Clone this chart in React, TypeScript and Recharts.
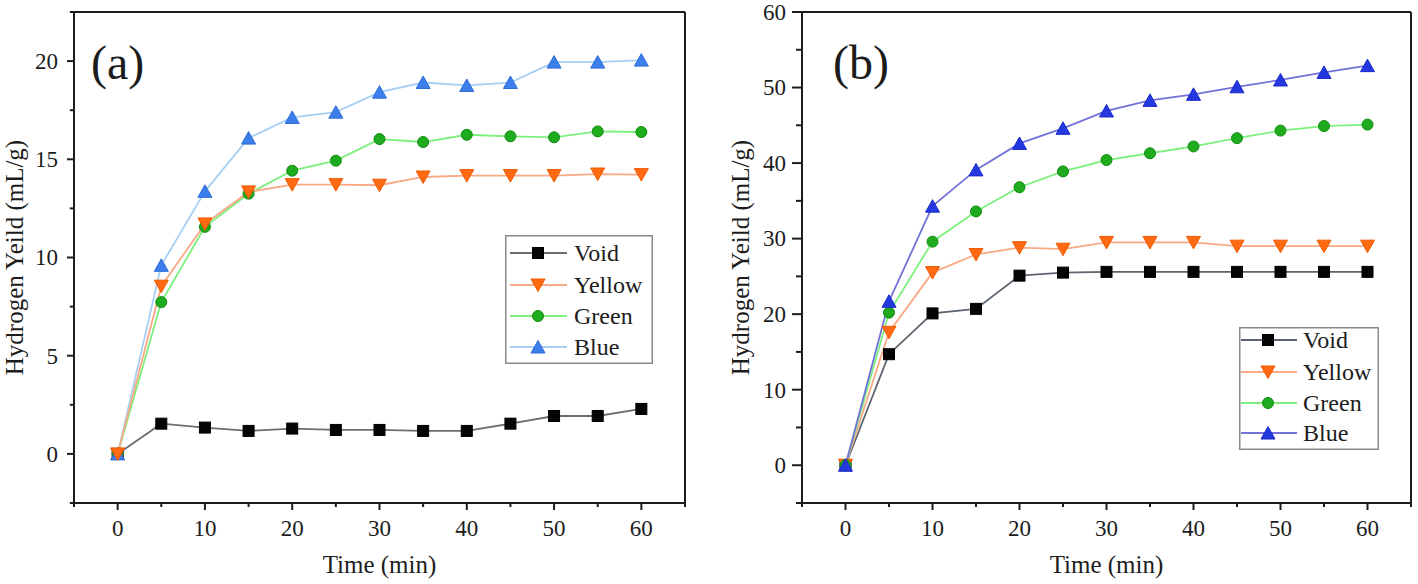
import { LineChart, Line, XAxis, YAxis, Legend } from 'recharts'

const times = [0, 5, 10, 15, 20, 25, 30, 35, 40, 45, 50, 55, 60]

// panel (a)
const voidA = [0, 1.54, 1.34, 1.17, 1.29, 1.22, 1.22, 1.17, 1.17, 1.54, 1.93, 1.93, 2.29]
const yellowA = [0, 8.54, 11.71, 13.34, 13.71, 13.71, 13.68, 14.1, 14.17, 14.17, 14.17, 14.25, 14.22]
const greenA = [0, 7.73, 11.56, 13.25, 14.42, 14.93, 16.03, 15.88, 16.25, 16.17, 16.12, 16.42, 16.39]
const blueA = [0, 9.6, 13.37, 16.08, 17.13, 17.4, 18.42, 18.91, 18.76, 18.91, 19.95, 19.95, 20.05]

// panel (b)
const voidB = [0, 14.7, 20.1, 20.7, 25.1, 25.5, 25.6, 25.6, 25.6, 25.6, 25.6, 25.6, 25.6]
const yellowB = [0, 17.6, 25.5, 27.9, 28.8, 28.6, 29.5, 29.5, 29.5, 29.0, 29.0, 29.0, 29.0]
const greenB = [0, 20.2, 29.6, 33.6, 36.8, 38.9, 40.4, 41.3, 42.2, 43.3, 44.3, 44.9, 45.1]
const blueB = [0, 21.7, 34.3, 39.1, 42.6, 44.6, 46.9, 48.3, 49.1, 50.1, 51.0, 52.0, 52.9]

const xTicks = [-5, 0, 5, 10, 15, 20, 25, 30, 35, 40, 45, 50, 55, 60, 65]
const yTicksA = [-2.5, 0, 2.5, 5, 7.5, 10, 12.5, 15, 17.5, 20, 22.5]
const yTicksB = [-5, 0, 5, 10, 15, 20, 25, 30, 35, 40, 45, 50, 55, 60]

const FONT = "'Liberation Serif', 'Times New Roman', serif"
const INK = '#1c1c1c'

type Marker = 'square' | 'down' | 'circle' | 'up'
interface SeriesStyle {
  name: string
  line: string
  fill: string
  edge: string
  marker: Marker
}

const stylesA: SeriesStyle[] = [
  { name: 'Void', line: '#6e6e6e', fill: '#050505', edge: '#000', marker: 'square' },
  { name: 'Yellow', line: '#f9a985', fill: '#ff6a12', edge: '#f05a00', marker: 'down' },
  { name: 'Green', line: '#7cf07c', fill: '#1eac1e', edge: '#108c10', marker: 'circle' },
  { name: 'Blue', line: '#a6cff3', fill: '#3d7fea', edge: '#2c6cd8', marker: 'up' },
]
const stylesB: SeriesStyle[] = [
  { name: 'Void', line: '#5c6470', fill: '#050505', edge: '#000', marker: 'square' },
  { name: 'Yellow', line: '#f9a985', fill: '#ff6a12', edge: '#f05a00', marker: 'down' },
  { name: 'Green', line: '#7cf07c', fill: '#1eac1e', edge: '#108c10', marker: 'circle' },
  { name: 'Blue', line: '#7272d8', fill: '#2438e0', edge: '#1a2ac8', marker: 'up' },
]

const makeRows = (v: number[], y: number[], g: number[], b: number[]) =>
  times.map((t, i) => ({ t, Void: v[i], Yellow: y[i], Green: g[i], Blue: b[i] }))

const rowsA = makeRows(voidA, yellowA, greenA, blueA)
const rowsB = makeRows(voidB, yellowB, greenB, blueB)

function marker(s: SeriesStyle, cx: number, cy: number, key?: string) {
  if (s.marker === 'square')
    return <rect key={key} x={cx - 5.5} y={cy - 5.5} width={11} height={11} fill={s.fill} stroke={s.edge} strokeWidth={1} />
  if (s.marker === 'circle')
    return <circle key={key} cx={cx} cy={cy} r={5.5} fill={s.fill} stroke={s.edge} strokeWidth={1} />
  if (s.marker === 'down')
    return (
      <polygon key={key} points={`${cx - 7},${cy - 6} ${cx + 7},${cy - 6} ${cx},${cy + 6.5}`} fill={s.fill} stroke={s.edge} strokeWidth={1} />
    )
  return <polygon key={key} points={`${cx - 7},${cy + 6} ${cx + 7},${cy + 6} ${cx},${cy - 6.5}`} fill={s.fill} stroke={s.edge} strokeWidth={1} />
}

const makeXTick = (props: any) => {
  const { x, y, payload } = props
  const v = payload.value
  const major = v % 10 === 0 && v >= 0 && v <= 60
  return (
    <g>
      <line x1={x} y1={y} x2={x} y2={y + (major ? 7 : 4)} stroke={INK} strokeWidth={2} />
      {major && (
        <text x={x} y={y + 33} textAnchor="middle" fontSize={23} fontFamily={FONT} fill={INK}>
          {v}
        </text>
      )}
    </g>
  )
}

const makeYTick = (step: number, len: number) => (props: any) => {
  const { x, y, payload } = props
  const v = payload.value
  const major = v % step === 0 && v >= 0
  return (
    <g>
      <line x1={x} y1={y} x2={x - (major ? len : len * 0.6)} y2={y} stroke={INK} strokeWidth={2} />
      {major && (
        <text x={x - 16} y={y} dy="0.34em" textAnchor="end" fontSize={23} fontFamily={FONT} fill={INK}>
          {v}
        </text>
      )}
    </g>
  )
}

interface LegendBox {
  x: number
  y: number
  w: number
  h: number
  rows: number[]
  lineX0: number
  lineX1: number
  markX: number
  textX: number
}

const legendContent = (styles: SeriesStyle[], box: LegendBox) => () => (
  <svg width={box.w} height={box.h} style={{ display: 'block' }}>
    <rect x={0.75} y={0.75} width={box.w - 1.5} height={box.h - 1.5} fill="#fff" stroke="#8a8a8a" strokeWidth={1.5} />
    {styles.map((s, i) => (
      <g key={s.name}>
        <line x1={box.lineX0} x2={box.lineX1} y1={box.rows[i]} y2={box.rows[i]} stroke={s.line} strokeWidth={1.8} />
        {marker(s, box.markX, box.rows[i])}
        <text x={box.textX} y={box.rows[i]} dy="0.34em" fontSize={24} fontFamily={FONT} fill={INK}>
          {s.name}
        </text>
      </g>
    ))}
  </svg>
)

interface PanelProps {
  left: number
  width: number
  plotLeft: number
  rightPad: number
  rows: any[]
  styles: SeriesStyle[]
  order: string[]
  yDomain: [number, number]
  yTicks: number[]
  yStep: number
  yTickLen: number
  yLabelOffset: number
  legend: LegendBox
  tag: string
  tagX: number
}

function Panel(p: PanelProps) {
  const byName = (n: string) => p.styles.find((s) => s.name === n) as SeriesStyle
  return (
    <div style={{ position: 'absolute', left: p.left, top: 0, width: p.width, height: 584 }}>
      <LineChart width={p.width} height={584} data={p.rows} margin={{ top: 0, right: 0, bottom: 0, left: 0 }}>
        <XAxis
          xAxisId="bottom"
          dataKey="t"
          type="number"
          domain={[-5, 65]}
          allowDataOverflow
          ticks={xTicks}
          interval={0}
          height={81}
          tickSize={0}
          tickMargin={0}
          tickLine={false}
          tick={makeXTick}
          axisLine={{ stroke: INK, strokeWidth: 2 }}
          label={{
            value: 'Time (min)',
            position: 'insideBottom',
            offset: 11,
            style: { fontSize: 25, fontFamily: FONT, fill: INK },
          }}
        />
        <XAxis
          xAxisId="top"
          orientation="top"
          dataKey="t"
          type="number"
          domain={[-5, 65]}
          allowDataOverflow
          height={12}
          tick={false}
          tickLine={false}
          axisLine={{ stroke: INK, strokeWidth: 2 }}
        />
        <YAxis
          yAxisId="left"
          type="number"
          domain={p.yDomain}
          allowDataOverflow
          ticks={p.yTicks}
          interval={0}
          width={p.plotLeft}
          tickSize={0}
          tickMargin={0}
          tickLine={false}
          tick={makeYTick(p.yStep, p.yTickLen)}
          axisLine={{ stroke: INK, strokeWidth: 2 }}
          label={{
            value: 'Hydrogen Yeild (mL/g)',
            angle: -90,
            position: 'insideLeft',
            offset: p.yLabelOffset,
            style: { textAnchor: 'middle', fontSize: 25, fontFamily: FONT, fill: INK },
          }}
        />
        <YAxis
          yAxisId="right"
          orientation="right"
          type="number"
          domain={p.yDomain}
          allowDataOverflow
          width={p.rightPad}
          tick={false}
          tickLine={false}
          axisLine={{ stroke: INK, strokeWidth: 2 }}
        />
        <Legend
          layout="vertical"
          align="center"
          verticalAlign="middle"
          content={legendContent(p.styles, p.legend)}
          wrapperStyle={{ left: p.legend.x, top: p.legend.y, width: p.legend.w, height: p.legend.h }}
        />
        {p.order.map((n) => {
          const s = byName(n)
          return (
            <Line
              key={n}
              xAxisId="bottom"
              yAxisId="left"
              dataKey={n}
              stroke={s.line}
              strokeWidth={1.8}
              isAnimationActive={false}
              activeDot={false}
              dot={(d: any) => marker(s, d.cx, d.cy, `${n}-${d.index}`)}
            />
          )
        })}
      </LineChart>
      <svg width={p.width} height={120} style={{ position: 'absolute', left: 0, top: 0, pointerEvents: 'none' }}>
        <text x={p.tagX} y={79} fontSize={48} fontFamily={FONT} fill={INK}>
          {p.tag}
        </text>
      </svg>
    </div>
  )
}

export default function App() {
  return (
    <div style={{ position: 'absolute', left: 0, top: 0, width: 1418, height: 584, background: '#fff', overflow: 'hidden' }}>
      <Panel
        left={0}
        width={700}
        plotLeft={74}
        rightPad={15}
        rows={rowsA}
        styles={stylesA}
        order={['Void', 'Green', 'Blue', 'Yellow']}
        yDomain={[-2.5, 22.5]}
        yTicks={yTicksA}
        yStep={5}
        yTickLen={7}
        yLabelOffset={14}
        legend={{ x: 505, y: 235, w: 148, h: 129, rows: [18, 50, 81, 112], lineX0: 5, lineX1: 62, markX: 33, textX: 69 }}
        tag="(a)"
        tagX={91}
      />
      <Panel
        left={710}
        width={708}
        plotLeft={92}
        rightPad={7}
        rows={rowsB}
        styles={stylesB}
        order={['Void', 'Yellow', 'Green', 'Blue']}
        yDomain={[-5, 60]}
        yTicks={yTicksB}
        yStep={10}
        yTickLen={10}
        yLabelOffset={30}
        legend={{ x: 529, y: 327, w: 140, h: 123, rows: [13, 45, 76, 106], lineX0: 2, lineX1: 58, markX: 29, textX: 64 }}
        tag="(b)"
        tagX={123}
      />
    </div>
  )
}
